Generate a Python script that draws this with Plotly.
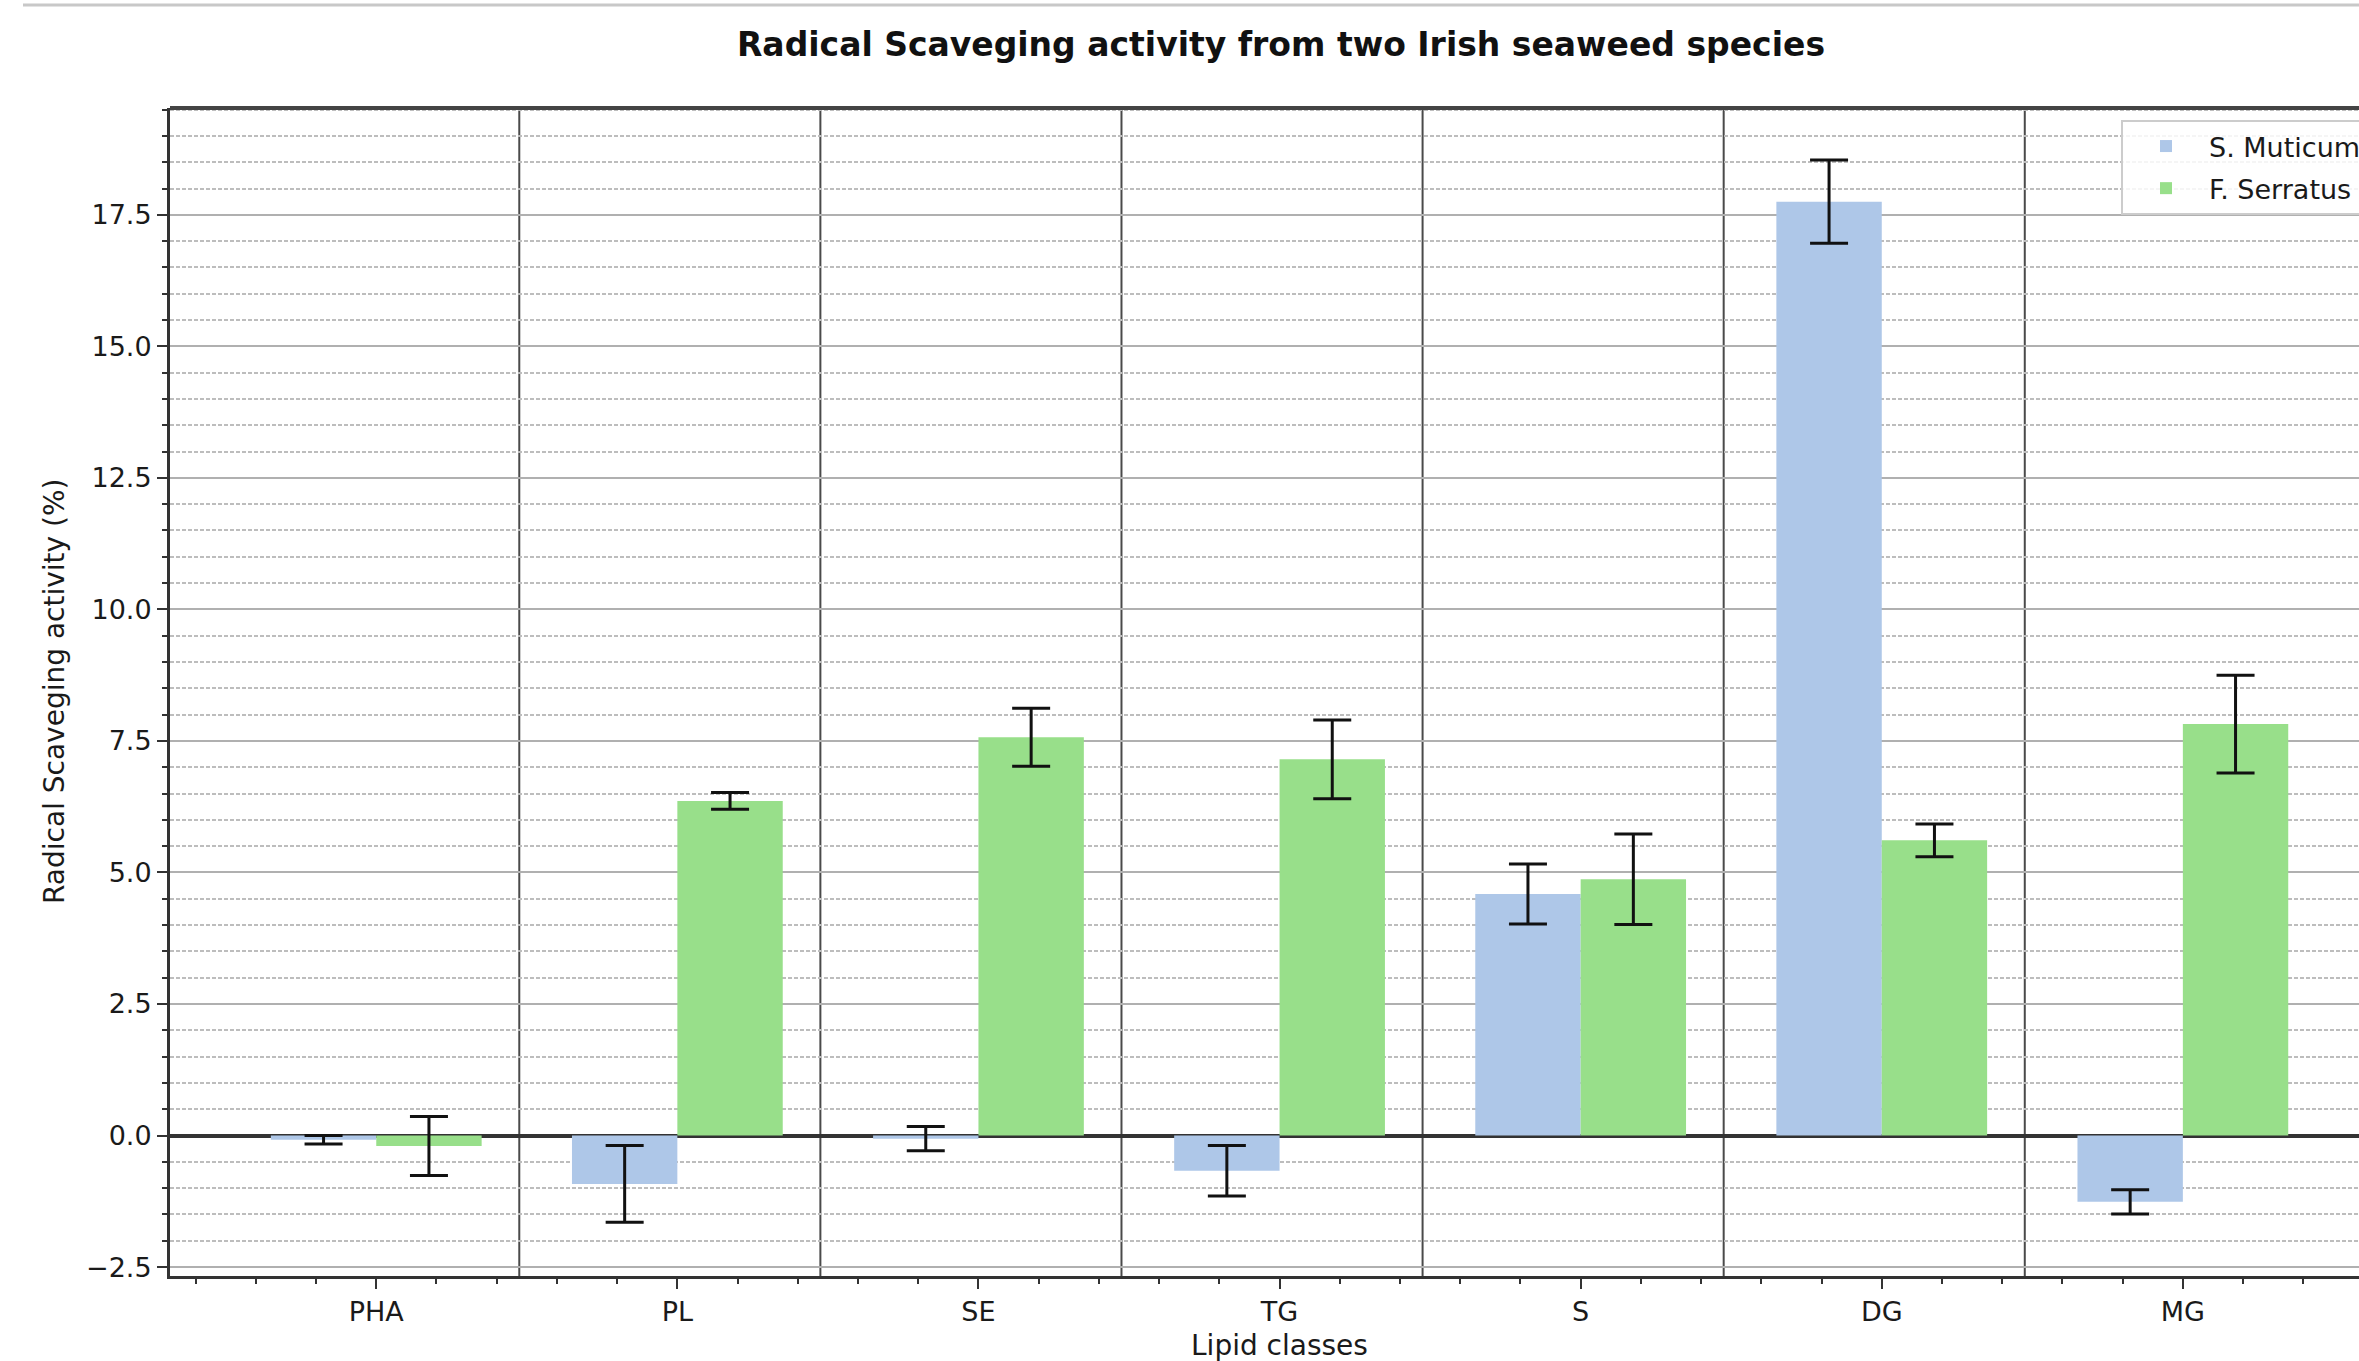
import plotly.graph_objects as go

categories = ["PHA", "PL", "SE", "TG", "S", "DG", "MG"]
muticum = [-0.08, -0.92, -0.06, -0.67, 4.59, 17.75, -1.26]
muticum_err = [0.08, 0.73, 0.23, 0.48, 0.57, 0.79, 0.23]
serratus = [-0.20, 6.36, 7.57, 7.15, 4.87, 5.61, 7.82]
serratus_err = [0.56, 0.16, 0.55, 0.75, 0.86, 0.31, 0.93]
series_names = ["S. Muticum", "F. Serratus"]
y_ticks = [-2.5, 0.0, 2.5, 5.0, 7.5, 10.0, 12.5, 15.0, 17.5]

W, H = 2359, 1361
L, R, T, B = 170, 0, 108, 85
pw = W - L - R
ph = H - T - B

idx = list(range(len(categories)))
bar_w = 0.35
FONT = "DejaVu Sans"
TXT = "#1a1a1a"

fig = go.Figure()
fig.add_trace(go.Bar(
    x=idx, y=muticum, name=series_names[0], width=bar_w, offset=-bar_w,
    marker=dict(color="#aec7e8", line=dict(width=0)),
    error_y=dict(type="data", array=muticum_err, color="#111111", thickness=3, width=19),
    legendgroup="a",
))
fig.add_trace(go.Bar(
    x=idx, y=serratus, name=series_names[1], width=bar_w, offset=0,
    marker=dict(color="#98df8a", line=dict(width=0)),
    error_y=dict(type="data", array=serratus_err, color="#111111", thickness=3, width=19),
    legendgroup="b",
))

shapes = []
for i in idx[:-1]:
    shapes.append(dict(type="line", xref="x", yref="paper", x0=i + 0.475, x1=i + 0.475,
                       y0=0, y1=1, line=dict(color="#4a4a4a", width=2), layer="below"))
# top spine
shapes.append(dict(type="line", xref="paper", yref="paper", x0=0, x1=1, y0=1, y1=1,
                   line=dict(color="#444444", width=4)))
# faint figure border line at the very top
shapes.append(dict(type="line", xref="paper", yref="paper", x0=(23 - L) / pw, x1=1,
                   y0=(ph + T - 5) / ph, y1=(ph + T - 5) / ph,
                   line=dict(color="#c8c8c8", width=3)))

fig.update_layout(
    width=W, height=H,
    margin=dict(l=L, r=R, t=T, b=B, autoexpand=False),
    paper_bgcolor="white", plot_bgcolor="white",
    barmode="overlay",
    font=dict(family=FONT, size=27, color=TXT),
    title=dict(text="Radical Scaveging activity from two Irish seaweed species",
               font=dict(family=FONT, size=33, color="#111111", weight="bold"),
               xref="paper", x=(1281 - L) / pw, xanchor="center",
               yref="container", y=1 - 44 / H, yanchor="middle"),
    shapes=shapes,
    showlegend=True,
    legend=dict(x=(2121 - L) / pw, y=(ph + T - 120) / ph, xanchor="left", yanchor="top",
                bgcolor="rgba(255,255,255,0.85)", bordercolor="#cccccc", borderwidth=2,
                font=dict(family=FONT, size=27, color=TXT),
                itemwidth=76,
                traceorder="grouped", tracegroupgap=4),
    annotations=[
        dict(text="Radical Scaveging activity (%)", textangle=-90, showarrow=False,
             xref="paper", yref="paper", x=(54 - L) / pw, y=0.5,
             xanchor="center", yanchor="middle", font=dict(family=FONT, size=28, color=TXT)),
        dict(text="Lipid classes", showarrow=False,
             xref="paper", yref="paper", x=(1279 - L) / pw, y=-(1345 - (T + ph)) / ph,
             xanchor="center", yanchor="middle", font=dict(family=FONT, size=28, color=TXT)),
    ],
)

fig.update_xaxes(
    range=[-0.685, 6.585],
    tickmode="array", tickvals=idx, ticktext=categories,
    ticks="outside", ticklen=10, tickwidth=2, tickcolor="#333333",
    showgrid=False, zeroline=False,
    showline=True, linecolor="#333333", linewidth=3, mirror=False,
    tickfont=dict(family=FONT, size=27, color=TXT),
    minor=dict(tickmode="linear", tick0=0, dtick=0.2, ticks="outside", ticklen=5,
               tickwidth=2, tickcolor="#333333", showgrid=False),
)
fig.update_yaxes(
    range=[-2.67, 19.53],
    tickmode="array", tickvals=y_ticks, tickformat=".1f",
    ticks="outside", ticklen=10, tickwidth=2, tickcolor="#333333",
    showgrid=True, gridcolor="#b0b0b0", gridwidth=2,
    zeroline=True, zerolinecolor="#333333", zerolinewidth=4,
    showline=True, linecolor="#333333", linewidth=3, mirror=False,
    tickfont=dict(family=FONT, size=27, color=TXT),
    minor=dict(tickmode="linear", tick0=0, dtick=0.5, ticks="outside", ticklen=5,
               tickwidth=2, tickcolor="#333333", showgrid=True,
               gridcolor="#bdbdbd", gridwidth=1.5, griddash="4px,2px"),
)

fig.write_html(
    "out.html",
    config={"displayModeBar": False},
    post_script="document.body.style.margin='0';document.body.style.overflow='hidden';",
)
